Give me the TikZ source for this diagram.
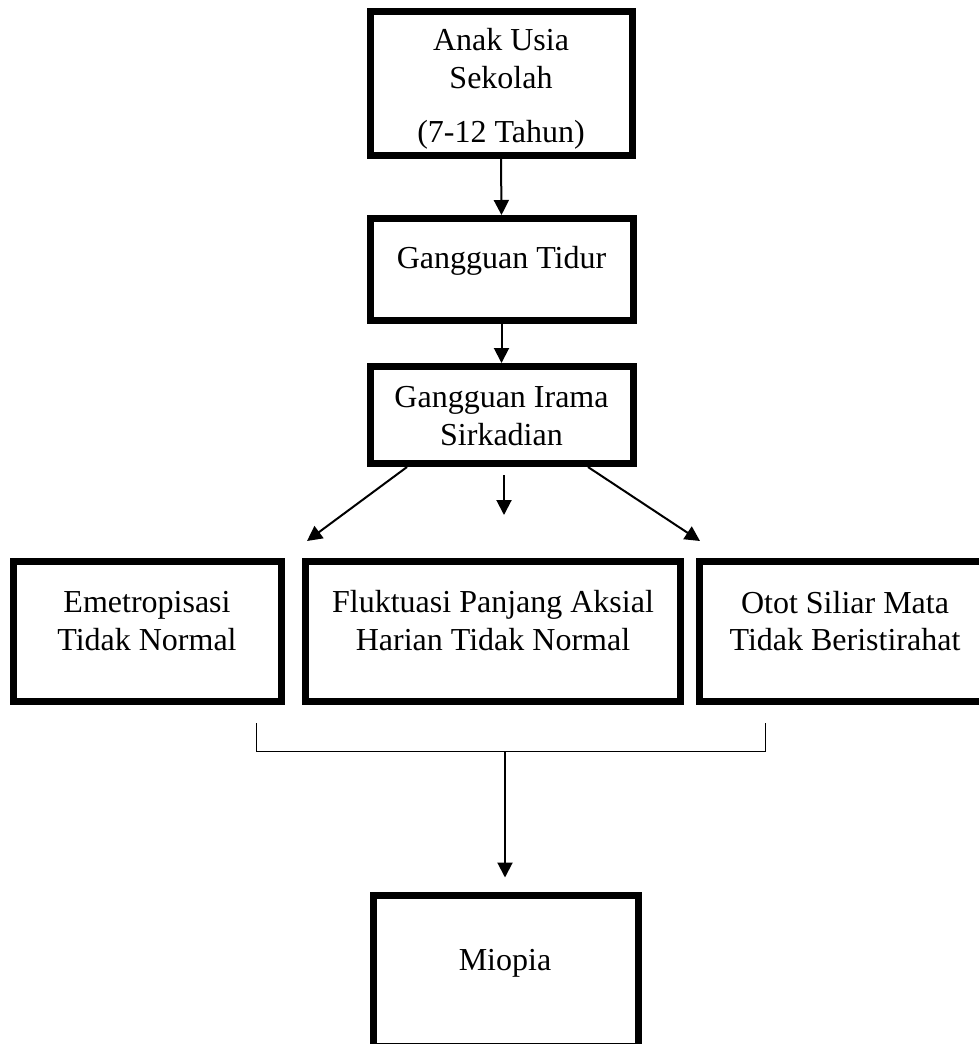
\documentclass[tikz,border=0pt]{standalone}
\usepackage{fontspec}
\setmainfont{Liberation Serif}
\usetikzlibrary{arrows.meta}
\begin{document}
\begin{tikzpicture}[x=1pt,y=-1pt,
  box/.style={draw,line width=7pt,rectangle,inner sep=0pt},
  txt/.style={anchor=base,inner sep=0pt,font=\fontsize{32}{37}\selectfont},
  arr/.style={line width=2pt,-{Triangle[length=15pt,width=15pt]}},
  brk/.style={line width=1pt}]
\clip (0,0) rectangle (979,1044);
\fill[white] (0,0) rectangle (979,1044);
% boxes
\node[box,minimum width=262pt,minimum height=143.5pt] (b1) at (501,83.25) {};
\node[box,minimum width=263pt,minimum height=101.5pt] (b2) at (501.5,269.25) {};
\node[box,minimum width=263pt,minimum height=97pt] (b3) at (501.5,415) {};
\node[box,minimum width=267.5pt,minimum height=140pt] (emet) at (147.25,631.5) {};
\node[box,minimum width=375pt,minimum height=140pt] (fluk) at (492.5,631.5) {};
\node[box,minimum width=295.5pt,minimum height=140pt] (otot) at (847.25,631.5) {};
\node[box,minimum width=265pt,minimum height=151.5pt] (miop) at (505.5,970.75) {};
% texts
\node[txt] (t1a) at (501,50) {Anak Usia};
\node[txt] (t1b) at (501,88) {Sekolah};
\node[txt] (t1c) at (501,142) {(7-12 Tahun)};
\node[txt] (t2) at (501.5,268) {Gangguan Tidur};
\node[txt] (t3a) at (501.5,407) {Gangguan Irama};
\node[txt] (t3b) at (501.5,445) {Sirkadian};
\node[txt] (t4a) at (147,612) {Emetropisasi};
\node[txt] (t4b) at (147,650) {Tidak Normal};
\node[txt] (t5a) at (493,612) {Fluktuasi Panjang Aksial};
\node[txt] (t5b) at (493,650) {Harian Tidak Normal};
\node[txt] (t6a) at (845,613) {Otot Siliar Mata};
\node[txt] (t6b) at (845,650) {Tidak Beristirahat};
\node[txt] (t7) at (505,970) {Miopia};
% coordinates
\coordinate (cL) at (307,541);
\coordinate (cR) at (700,541);
\coordinate (mS) at (504,475);
\coordinate (mE) at (504,515);
\coordinate (bL) at (256,723);
\coordinate (bLd) at (256,751);
\coordinate (bM) at (505,751);
\coordinate (bRd) at (765,751);
\coordinate (bR) at (765,723);
% connectors
\draw[arr] (b1.south) -- (b2.north);
\draw[arr] (b2.south) -- (b3.north);
\draw[arr] ([xshift=40.5pt]b3.south west) -- (cL);
\draw[arr] (mS) -- (mE);
\draw[arr] ([xshift=-48.5pt]b3.south east) -- (cR);
\draw[brk] (bL) -- (bLd) -- (bRd) -- (bR);
\draw[arr,shorten >=14pt] (bM) -- (bM |- miop.north);
\end{tikzpicture}
\end{document}
